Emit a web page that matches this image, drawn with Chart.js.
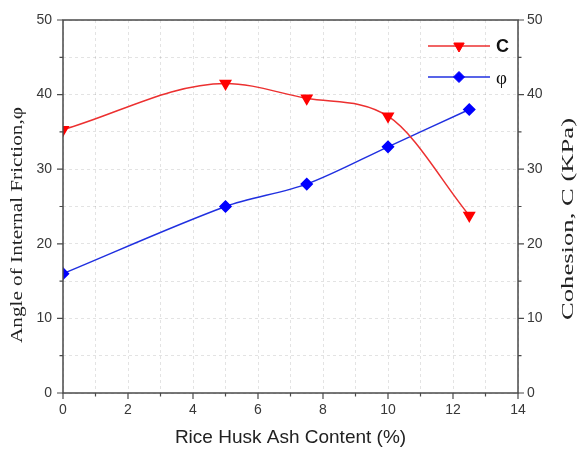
<!DOCTYPE html>
<html>
<head>
<meta charset="utf-8">
<script src="https://cdn.jsdelivr.net/npm/chart.js@4.4.1/dist/chart.umd.min.js"></script>
<style>
html,body{margin:0;padding:0;background:#fff;}
#wrap{width:581px;height:453px;}
</style>
</head>
<body>
<div id="wrap"><canvas id="c" width="581" height="453"></canvas></div>
<script>
// ---- data ----
const ashContent = [0, 5, 7.5, 10, 12.5];
const cohesion = [35.3, 41.5, 39.5, 37.1, 23.8];
const friction = [16.0, 25.0, 28.0, 33.0, 38.0];
const seriesNames = ['C', 'φ'];
const xTitle = 'Rice Husk Ash Content (%)';
const yLeftTitle = 'Angle of Internal Friction,φ';
const yRightTitle = 'Cohesion, C (KPa)';

const FRAME = '#4a4a4a';
const TICKC = '#383838';

const framePlugin = {
  id: 'frame',
  afterDraw(chart) {
    const {ctx, chartArea: a, scales} = chart;
    ctx.save();
    ctx.strokeStyle = FRAME;
    ctx.lineWidth = 1.5;
    ctx.strokeRect(a.left, a.top, a.right - a.left, a.bottom - a.top);
    ctx.lineWidth = 1.2;
    ctx.beginPath();
    for (let v = 0; v <= 14; v += 1) {
      const px = scales.x.getPixelForValue(v);
      const len = v % 2 === 0 ? 6 : 3.5;
      ctx.moveTo(px, a.bottom); ctx.lineTo(px, a.bottom + len);
    }
    for (let v = 0; v <= 50; v += 5) {
      const py = scales.y.getPixelForValue(v);
      const len = v % 10 === 0 ? 6 : 3.5;
      ctx.moveTo(a.left, py); ctx.lineTo(a.left - len, py);
      ctx.moveTo(a.right, py); ctx.lineTo(a.right + len, py);
    }
    ctx.stroke();
    ctx.restore();
  }
};

function drawStretchedVertical(ctx, text, cx, cy, font, targetLen) {
  ctx.save();
  ctx.font = font;
  const w = ctx.measureText(text).width;
  ctx.translate(cx, cy);
  ctx.rotate(-Math.PI / 2);
  ctx.scale(targetLen / w, 1);
  ctx.textAlign = 'center';
  ctx.textBaseline = 'middle';
  ctx.fillStyle = '#222';
  ctx.fillText(text, 0, 0);
  ctx.restore();
}

const titlePlugin = {
  id: 'titles',
  afterDraw(chart) {
    const ctx = chart.ctx;
    const serif = '17px "Liberation Serif", "Times New Roman", serif';
    drawStretchedVertical(ctx, yLeftTitle, 18, 225, serif, 236);
    drawStretchedVertical(ctx, yRightTitle, 569, 219, serif, 202);
  }
};

const legendPlugin = {
  id: 'innerLegend',
  afterDatasetsDraw(chart) {
    const ctx = chart.ctx;
    const rows = [
      {ds: chart.data.datasets[0], y: 46, font: 'bold 18px "Liberation Sans", Arial, sans-serif', dy: 1},
      {ds: chart.data.datasets[1], y: 77, font: '19px "Liberation Serif", serif', dy: 2}
    ];
    rows.forEach(r => {
      ctx.save();
      ctx.strokeStyle = r.ds.borderColor;
      ctx.lineWidth = 1.5;
      ctx.beginPath();
      ctx.moveTo(428, r.y); ctx.lineTo(490, r.y);
      ctx.stroke();
      ctx.fillStyle = r.ds.pointBackgroundColor;
      ctx.strokeStyle = r.ds.pointBorderColor;
      ctx.lineWidth = 1;
      Chart.helpers.drawPoint(ctx, {
        pointStyle: r.ds.pointStyle,
        radius: r.ds.pointRadius,
        rotation: r.ds.pointRotation || 0,
        borderWidth: 1
      }, 459, r.y);
      ctx.fillStyle = '#111';
      ctx.font = r.font;
      ctx.textAlign = 'left';
      ctx.textBaseline = 'middle';
      ctx.fillText(r.ds.label, 496, r.y + r.dy);
      ctx.restore();
    });
  }
};

const tickFont = {family: '"Liberation Sans", Arial, sans-serif', size: 14};

new Chart(document.getElementById('c'), {
  type: 'line',
  data: {
    datasets: [
      {
        label: seriesNames[0],
        data: ashContent.map((x, i) => ({x, y: cohesion[i]})),
        yAxisID: 'y2',
        borderColor: '#ec3030',
        borderWidth: 1.5,
        pointStyle: 'triangle',
        pointRotation: 180,
        pointRadius: 6,
        pointBackgroundColor: '#ff0000',
        pointBorderColor: '#ff0000',
        cubicInterpolationMode: 'monotone',
        fill: false
      },
      {
        label: seriesNames[1],
        data: ashContent.map((x, i) => ({x, y: friction[i]})),
        yAxisID: 'y',
        borderColor: '#2030e0',
        borderWidth: 1.5,
        pointStyle: 'rectRot',
        pointRadius: 5.5,
        pointBackgroundColor: '#0000ff',
        pointBorderColor: '#0000ff',
        tension: 0.3,
        fill: false
      }
    ]
  },
  options: {
    responsive: false,
    animation: false,
    layout: {padding: {top: 20, left: 0, right: 0, bottom: 0}},
    plugins: {legend: {display: false}, tooltip: {enabled: false}},
    scales: {
      x: {
        type: 'linear', min: 0, max: 14,
        afterFit: s => { s.height = 60; },
        ticks: {stepSize: 1, padding: 9, color: TICKC, font: tickFont, maxRotation: 0, autoSkip: false,
          callback: v => (v % 2 === 0 ? String(v) : '')},
        grid: {color: 'rgba(0,0,0,0.11)', drawTicks: false, lineWidth: 1},
        border: {display: false, dash: [3, 3]},
        title: {display: true, text: xTitle, color: '#222',
          font: {family: '"Liberation Sans", Arial, sans-serif', size: 19}, padding: {top: 6}}
      },
      y: {
        position: 'left', min: 0, max: 50,
        afterFit: s => { s.width = 63; },
        ticks: {stepSize: 5, padding: 11, color: TICKC, font: tickFont,
          callback: v => (v % 10 === 0 ? String(v) : '')},
        grid: {color: 'rgba(0,0,0,0.11)', drawTicks: false, lineWidth: 1},
        border: {display: false, dash: [3, 3]}
      },
      y2: {
        position: 'right', min: 0, max: 50,
        afterFit: s => { s.width = 63; },
        ticks: {stepSize: 5, padding: 9, color: TICKC, font: tickFont,
          callback: v => (v % 10 === 0 ? String(v) : '')},
        grid: {display: false, drawTicks: false},
        border: {display: false}
      }
    }
  },
  plugins: [framePlugin, titlePlugin, legendPlugin]
});
</script>
</body>
</html>
